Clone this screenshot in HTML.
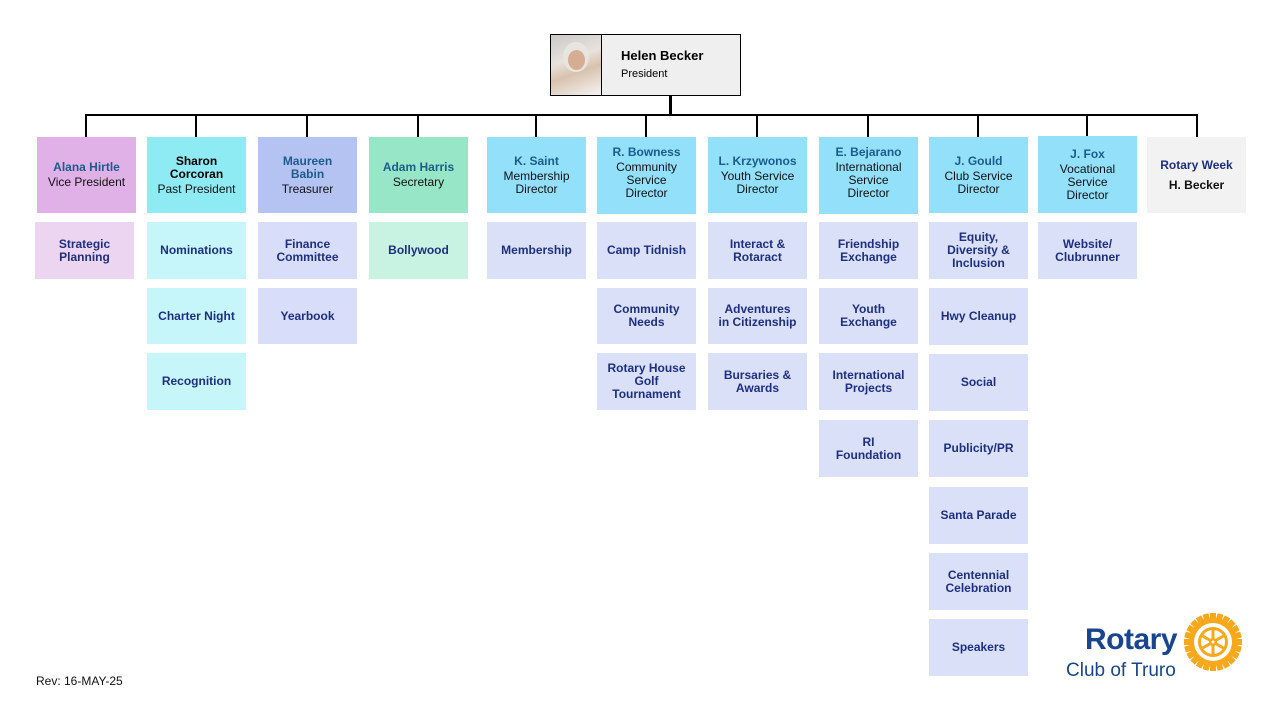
<!DOCTYPE html>
<html><head><meta charset="utf-8"><style>
body{margin:0;width:1280px;height:720px;background:#fff;position:relative;overflow:hidden;font-family:"Liberation Sans",Arial,sans-serif}
.b{position:absolute;display:flex;flex-direction:column;align-items:center;justify-content:center;text-align:center;font-size:12px;line-height:13px;color:#111}
.n{color:#1b5c8c;font-weight:bold;margin-bottom:2px}
.s{color:#1e2f80;font-weight:bold}
.l{position:absolute;background:#000}
</style></head><body>
<!-- president -->
<div style="position:absolute;left:550px;top:34px;width:189px;height:60px;border:1px solid #000;background:#efefef"></div>
<div style="position:absolute;left:551px;top:35px;width:50px;height:60px;background:linear-gradient(160deg,#c9c9c9 0%,#e8e2dc 40%,#d9c2ad 60%,#f4f4f4 100%);border-right:1px solid #000"></div>
<div style="position:absolute;left:563px;top:42px;width:26px;height:30px;border-radius:50%;background:#e7e5e0"></div>
<div style="position:absolute;left:568px;top:50px;width:17px;height:20px;border-radius:50%;background:#d7ad92"></div>
<div style="position:absolute;left:621px;top:48px;font-size:13px;font-weight:bold">Helen Becker</div>
<div style="position:absolute;left:621px;top:68px;font-size:11px">President</div>
<!-- lines -->
<div class="l" style="left:669px;top:95px;width:3px;height:20px"></div>
<div class="l" style="left:85px;top:114px;width:1113px;height:2px"></div>
<div class="l" style="left:85px;top:115px;width:2px;height:22px"></div>
<div class="l" style="left:195px;top:115px;width:2px;height:22px"></div>
<div class="l" style="left:306px;top:115px;width:2px;height:22px"></div>
<div class="l" style="left:417px;top:115px;width:2px;height:22px"></div>
<div class="l" style="left:535px;top:115px;width:2px;height:22px"></div>
<div class="l" style="left:645px;top:115px;width:2px;height:22px"></div>
<div class="l" style="left:756px;top:115px;width:2px;height:22px"></div>
<div class="l" style="left:867px;top:115px;width:2px;height:22px"></div>
<div class="l" style="left:977px;top:115px;width:2px;height:22px"></div>
<div class="l" style="left:1086px;top:115px;width:2px;height:22px"></div>
<div class="l" style="left:1196px;top:115px;width:2px;height:22px"></div>
<!-- headers -->
<div class="b" style="left:37px;top:137px;width:99px;height:76px;background:#e0b1e6"><span class="n">Alana Hirtle</span>Vice President</div>
<div class="b" style="left:147px;top:137px;width:99px;height:76px;background:#8eeaf3"><span class="n" style="color:#000">Sharon<br>Corcoran</span>Past President</div>
<div class="b" style="left:258px;top:137px;width:99px;height:76px;background:#b4c3f2"><span class="n">Maureen<br>Babin</span>Treasurer</div>
<div class="b" style="left:369px;top:137px;width:99px;height:76px;background:#98e6c8"><span class="n">Adam Harris</span>Secretary</div>
<div class="b" style="left:487px;top:137px;width:99px;height:76px;background:#93e0fb"><span class="n">K. Saint</span>Membership<br>Director</div>
<div class="b" style="left:597px;top:137px;width:99px;height:77px;background:#93e0fb;justify-content:flex-start;padding-top:9px;box-sizing:border-box"><span class="n">R. Bowness</span>Community<br>Service<br>Director</div>
<div class="b" style="left:708px;top:137px;width:99px;height:76px;background:#93e0fb"><span class="n">L. Krzywonos</span>Youth Service<br>Director</div>
<div class="b" style="left:819px;top:137px;width:99px;height:77px;background:#93e0fb;justify-content:flex-start;padding-top:9px;box-sizing:border-box"><span class="n">E. Bejarano</span>International<br>Service<br>Director</div>
<div class="b" style="left:929px;top:137px;width:99px;height:76px;background:#93e0fb"><span class="n">J. Gould</span>Club Service<br>Director</div>
<div class="b" style="left:1038px;top:136px;width:99px;height:77px;background:#93e0fb"><span class="n">J. Fox</span>Vocational<br>Service<br>Director</div>
<div class="b" style="left:1147px;top:137px;width:99px;height:76px;background:#f2f2f2"><span class="n" style="color:#1e2f80;margin-bottom:7px">Rotary Week</span><b>H. Becker</b></div>
<!-- subs -->
<div class="b s" style="left:35px;top:222px;width:99px;height:57px;background:#ecd5f0">Strategic<br>Planning</div>
<div class="b s" style="left:147px;top:222px;width:99px;height:57px;background:#c6f6f9">Nominations</div>
<div class="b s" style="left:147px;top:288px;width:99px;height:56px;background:#c6f6f9">Charter Night</div>
<div class="b s" style="left:147px;top:353px;width:99px;height:57px;background:#c6f6f9">Recognition</div>
<div class="b s" style="left:258px;top:222px;width:99px;height:57px;background:#d8defa">Finance<br>Committee</div>
<div class="b s" style="left:258px;top:288px;width:99px;height:56px;background:#d8defa">Yearbook</div>
<div class="b s" style="left:369px;top:222px;width:99px;height:57px;background:#c8f2e2">Bollywood</div>
<div class="b s" style="left:487px;top:222px;width:99px;height:57px;background:#d9e0f8">Membership</div>
<div class="b s" style="left:597px;top:222px;width:99px;height:57px;background:#d9e0f8">Camp Tidnish</div>
<div class="b s" style="left:597px;top:288px;width:99px;height:56px;background:#d9e0f8">Community<br>Needs</div>
<div class="b s" style="left:597px;top:353px;width:99px;height:57px;background:#d9e0f8">Rotary House<br>Golf<br>Tournament</div>
<div class="b s" style="left:708px;top:222px;width:99px;height:57px;background:#d9e0f8">Interact &amp;<br>Rotaract</div>
<div class="b s" style="left:708px;top:288px;width:99px;height:56px;background:#d9e0f8">Adventures<br>in Citizenship</div>
<div class="b s" style="left:708px;top:353px;width:99px;height:57px;background:#d9e0f8">Bursaries &amp;<br>Awards</div>
<div class="b s" style="left:819px;top:222px;width:99px;height:57px;background:#d9e0f8">Friendship<br>Exchange</div>
<div class="b s" style="left:819px;top:288px;width:99px;height:56px;background:#d9e0f8">Youth<br>Exchange</div>
<div class="b s" style="left:819px;top:353px;width:99px;height:57px;background:#d9e0f8">International<br>Projects</div>
<div class="b s" style="left:819px;top:420px;width:99px;height:57px;background:#d9e0f8">RI<br>Foundation</div>
<div class="b s" style="left:929px;top:222px;width:99px;height:57px;background:#d9e0f8">Equity,<br>Diversity &amp;<br>Inclusion</div>
<div class="b s" style="left:929px;top:288px;width:99px;height:57px;background:#d9e0f8">Hwy Cleanup</div>
<div class="b s" style="left:929px;top:354px;width:99px;height:57px;background:#d9e0f8">Social</div>
<div class="b s" style="left:929px;top:420px;width:99px;height:57px;background:#d9e0f8">Publicity/PR</div>
<div class="b s" style="left:929px;top:487px;width:99px;height:57px;background:#d9e0f8">Santa Parade</div>
<div class="b s" style="left:929px;top:553px;width:99px;height:57px;background:#d9e0f8">Centennial<br>Celebration</div>
<div class="b s" style="left:929px;top:619px;width:99px;height:57px;background:#d9e0f8">Speakers</div>
<div class="b s" style="left:1038px;top:222px;width:99px;height:57px;background:#d9e0f8">Website/<br>Clubrunner</div>
<!-- footer -->
<div style="position:absolute;left:36px;top:674px;font-size:12px;color:#111">Rev: 16-MAY-25</div>
<div style="position:absolute;left:1085px;top:623px;font-size:30px;font-weight:bold;color:#17458f;letter-spacing:-0.5px">Rotary</div>
<div style="position:absolute;left:1066px;top:660px;font-size:19px;color:#17458f">Club of Truro</div>
<svg style="position:absolute;left:1184px;top:613px" width="58" height="58" viewBox="-29 -29 58 58">
<g fill="#f7a81b">
<circle r="24"/>
<g id="t"><rect x="-3" y="-29" width="6" height="6"/></g>
<use href="#t" transform="rotate(15)"/><use href="#t" transform="rotate(30)"/><use href="#t" transform="rotate(45)"/><use href="#t" transform="rotate(60)"/><use href="#t" transform="rotate(75)"/><use href="#t" transform="rotate(90)"/><use href="#t" transform="rotate(105)"/><use href="#t" transform="rotate(120)"/><use href="#t" transform="rotate(135)"/><use href="#t" transform="rotate(150)"/><use href="#t" transform="rotate(165)"/><use href="#t" transform="rotate(180)"/><use href="#t" transform="rotate(195)"/><use href="#t" transform="rotate(210)"/><use href="#t" transform="rotate(225)"/><use href="#t" transform="rotate(240)"/><use href="#t" transform="rotate(255)"/><use href="#t" transform="rotate(270)"/><use href="#t" transform="rotate(285)"/><use href="#t" transform="rotate(300)"/><use href="#t" transform="rotate(315)"/><use href="#t" transform="rotate(330)"/><use href="#t" transform="rotate(345)"/>
</g>
<circle r="19" fill="#fff"/>
<circle r="15" fill="#f7a81b"/>
<circle r="12" fill="#fff"/>
<g stroke="#f7a81b" stroke-width="3"><line x1="0" y1="-12" x2="0" y2="12"/><line x1="-10.4" y1="-6" x2="10.4" y2="6"/><line x1="-10.4" y1="6" x2="10.4" y2="-6"/></g>
<circle r="4" fill="#f7a81b"/><circle r="1.5" fill="#fff"/>
</svg>
</body></html>
